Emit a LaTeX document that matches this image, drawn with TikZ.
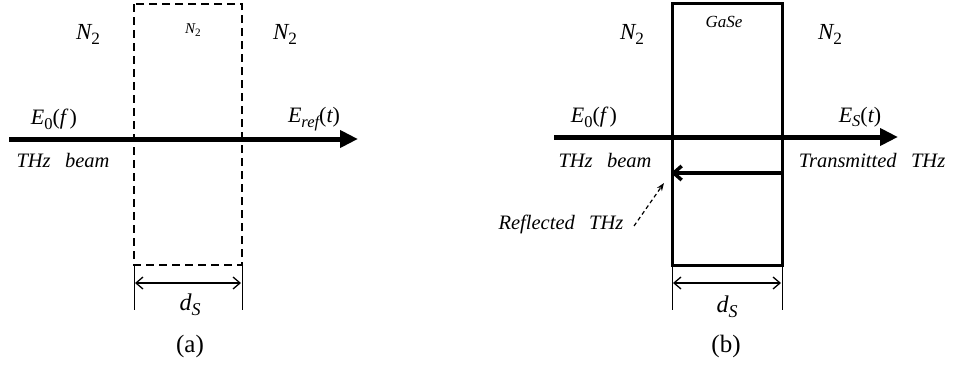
\documentclass[tikz,border=0pt]{standalone}
\usepackage{fontspec}
\setmainfont{Liberation Serif}
\usetikzlibrary{arrows.meta}
\newcommand{\sbs}[1]{\raisebox{-0.22em}{\scalebox{0.75}{#1}}}
\begin{document}
\begin{tikzpicture}[x=1pt,y=-1pt,
  lab/.style={inner sep=0pt},
  big/.style={lab,font=\fontsize{23}{25}\selectfont\itshape},
  mid/.style={lab,font=\fontsize{22}{24}\selectfont\itshape},
  txt/.style={lab,font=\fontsize{20.5}{22}\selectfont\itshape},
  captxt/.style={lab,font=\fontsize{25}{27}\selectfont},
  beam/.style={line width=5pt,-{Triangle[length=18pt,width=16pt,angle'=50]}},
  boxline/.style={line width=2.5pt},
  tick/.style={line width=0.8pt},
  dim/.style={line width=1.3pt,{Straight Barb[length=7pt,width=12pt]}-{Straight Barb[length=7pt,width=12pt]}}]
\useasboundingbox (0,0) rectangle (962,372);
% ---------- panel (a)
\coordinate (a1) at (134,4);
\coordinate (a2) at (242,265);
\draw[boxline,dash pattern=on 8pt off 5pt] (a1) rectangle (a2);
\coordinate (abs) at (9,139);
\coordinate (abe) at (358,139);
\draw[beam] (abs) -- (abe);
\coordinate (at1) at (134,265); \coordinate (at1b) at (134,310);
\coordinate (at2) at (242,265); \coordinate (at2b) at (242,310);
\draw[tick] (at1) -- (at1b);
\draw[tick] (at2) -- (at2b);
\coordinate (ad1) at (135,283); \coordinate (ad2) at (241,283);
\draw[dim] (ad1) -- (ad2);
\node[big] (aN1) at (88,34) {N\sbs{\upshape 2}};
\node[big] (aN3) at (285,34) {N\sbs{\upshape 2}};
\node[lab,font=\fontsize{15}{16}\selectfont\itshape] (aN2) at (193,30) {N\sbs{\upshape 2}};
\node[mid] (aE0) at (54,119) {E\sbs{\upshape 0}\upshape(\itshape f\,\upshape)};
\node[mid] (aEr) at (314,119) {E\sbs{ref}\upshape(\itshape t\upshape)};
\node[txt] (aTHz) at (63,160) {THz\hspace{0.7em}beam};
\node[lab,font=\fontsize{24}{26}\selectfont\itshape] (ads) at (190,305) {d\sbs{S}};
\node[captxt] (acap) at (190,346) {(a)};
% ---------- panel (b)
\node[draw,boxline,minimum width=110pt,minimum height=262pt,inner sep=0pt,anchor=north west] (gase) at (671,2) {};
\coordinate (bbs) at (554,137);
\coordinate (bbe) at (898,137);
\draw[beam] (bbs) -- (bbe);
\coordinate (br1) at (gase.east |- 0,173);
\coordinate (br2) at (gase.west |- 0,173);
\draw[line width=3.5pt,-{Straight Barb[length=8pt,width=14pt]}] (br1) -- (br2);
\coordinate (bt1) at (672,264); \coordinate (bt1b) at (672,310);
\coordinate (bt2) at (782,264); \coordinate (bt2b) at (782,310);
\draw[tick] (bt1) -- (bt1b);
\draw[tick] (bt2) -- (bt2b);
\coordinate (bd1) at (673,283); \coordinate (bd2) at (781,283);
\draw[dim] (bd1) -- (bd2);
\node[big] (bN1) at (632,34) {N\sbs{\upshape 2}};
\node[big] (bN3) at (830,34) {N\sbs{\upshape 2}};
\node[lab,font=\fontsize{17}{18}\selectfont\itshape] (bG) at (724,22) {GaSe};
\node[mid] (bE0) at (594,117) {E\sbs{\upshape 0}\upshape(\itshape f\,\upshape)};
\node[mid] (bEs) at (860,117) {E\sbs{S}\upshape(\itshape t\upshape)};
\node[txt] (bTHz) at (605,160) {THz\hspace{0.7em}beam};
\node[txt] (bTr) at (872,160) {Transmitted\hspace{0.7em}THz};
\node[txt] (bRe) at (561,224) {Reflected\hspace{0.7em}THz};
\coordinate (bar) at (664,183);
\coordinate (bas) at (634,226);
\draw[line width=1.2pt,dash pattern=on 4pt off 3pt,-{Stealth[length=8pt,width=6pt]}] (bas) -- (bar);
\node[lab,font=\fontsize{24}{26}\selectfont\itshape] (bds) at (727,307) {d\sbs{S}};
\node[captxt] (bcap) at (726,346) {(b)};
\end{tikzpicture}
\end{document}
